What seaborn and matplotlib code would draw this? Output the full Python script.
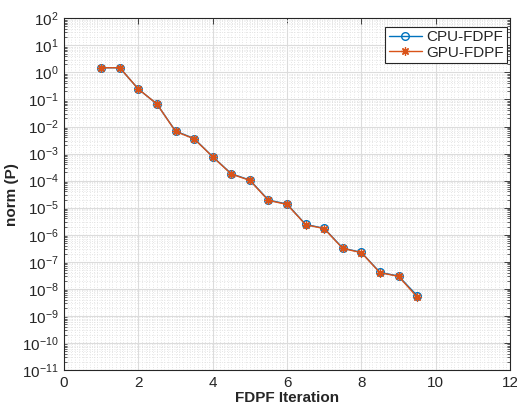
import numpy as np
import pandas as pd
import matplotlib
matplotlib.use("Agg")
import matplotlib.pyplot as plt
import matplotlib.ticker as mticker
import seaborn as sns

iterations = [1.0, 1.5, 2.0, 2.5, 3.0, 3.5, 4.0, 4.5, 5.0, 5.5, 6.0, 6.5, 7.0, 7.5, 8.0, 8.5, 9.0, 9.5]
cpu_norm = [1.49, 1.49, 0.243, 0.068, 0.0068, 0.0036, 7.7e-4, 1.8e-4, 1.05e-4, 1.92e-5, 1.36e-5,
            2.42e-6, 1.72e-6, 3.2e-7, 2.23e-7, 4.07e-8, 2.97e-8, 5.6e-9]
gpu_norm = [1.49, 1.49, 0.243, 0.068, 0.0066, 0.0035, 7.6e-4, 1.75e-4, 1.02e-4, 1.85e-5, 1.32e-5,
            2.35e-6, 1.68e-6, 3.1e-7, 2.18e-7, 3.95e-8, 2.9e-8, 5.0e-9]
series_names = ["CPU-FDPF", "GPU-FDPF"]

df = pd.DataFrame({
    "iter": iterations * 2,
    "norm": cpu_norm + gpu_norm,
    "series": [series_names[0]] * len(iterations) + [series_names[1]] * len(iterations),
})

sns.set_theme(style="white")
plt.rcParams["font.family"] = ["Liberation Sans", "DejaVu Sans"]
plt.rcParams["mathtext.fontset"] = "custom"
plt.rcParams["mathtext.rm"] = "Liberation Sans"

fig = plt.figure(figsize=(5.17, 4.07), dpi=100)
ax = fig.add_axes([0.1238, 0.0909, 0.8627, 0.8641])

colors = {"CPU-FDPF": "#0072BD", "GPU-FDPF": "#D95319"}
ax.set_yscale("log")
sns.lineplot(data=df[df.series == "CPU-FDPF"], x="iter", y="norm", ax=ax, color=colors["CPU-FDPF"],
             marker="o", markersize=5.5, markerfacecolor="none", markeredgecolor=colors["CPU-FDPF"],
             markeredgewidth=1.0, linewidth=1.0, label="CPU-FDPF")
sns.lineplot(data=df[df.series == "GPU-FDPF"], x="iter", y="norm", ax=ax, color=colors["GPU-FDPF"],
             marker=(8, 2, 0), markersize=6, markeredgecolor=colors["GPU-FDPF"],
             markeredgewidth=0.9, linewidth=1.0, label="GPU-FDPF")

ax.set_xlim(0, 12)
ax.set_ylim(1e-11, 1e2)
ax.set_xticks([0, 2, 4, 6, 8, 10, 12])
ax.xaxis.set_minor_locator(mticker.MultipleLocator(0.1))
ax.yaxis.set_major_locator(mticker.LogLocator(base=10, numticks=20))
ax.yaxis.set_minor_locator(mticker.LogLocator(base=10, subs=np.arange(2, 10), numticks=200))
ax.yaxis.set_minor_formatter(mticker.NullFormatter())

ax.grid(True, which="major", color="#dcdcdc", linewidth=0.8, linestyle="-")
ax.grid(True, which="minor", color="#dedede", linewidth=0.6, linestyle=(0, (1, 2)))
ax.set_axisbelow(True)

for s in ax.spines.values():
    s.set_visible(True)
    s.set_color("#262626")
    s.set_linewidth(0.8)

ax.tick_params(axis="both", which="major", direction="in", length=4, width=0.6, color="#262626",
               labelsize=11, labelcolor="#262626", top=True, right=True, pad=4)
ax.tick_params(axis="y", which="minor", direction="in", length=2.5, width=0.5, color="#262626",
               left=True, right=True)
ax.tick_params(axis="x", which="minor", length=0, top=False, bottom=False)

ax.set_xlabel("FDPF Iteration", fontsize=11, fontweight="bold", labelpad=1)
ax.set_ylabel("norm (P)", fontsize=11, fontweight="bold", labelpad=2)

leg = ax.legend(loc="upper right", fontsize=11, frameon=True, fancybox=False, framealpha=1,
                edgecolor="#262626", borderaxespad=0.2, bbox_to_anchor=(1.0, 0.985),
                handlelength=2.2, borderpad=0.22, labelspacing=0.1, handletextpad=0.25)
leg.get_frame().set_linewidth(0.8)

fig.savefig("out.png", dpi=100)
